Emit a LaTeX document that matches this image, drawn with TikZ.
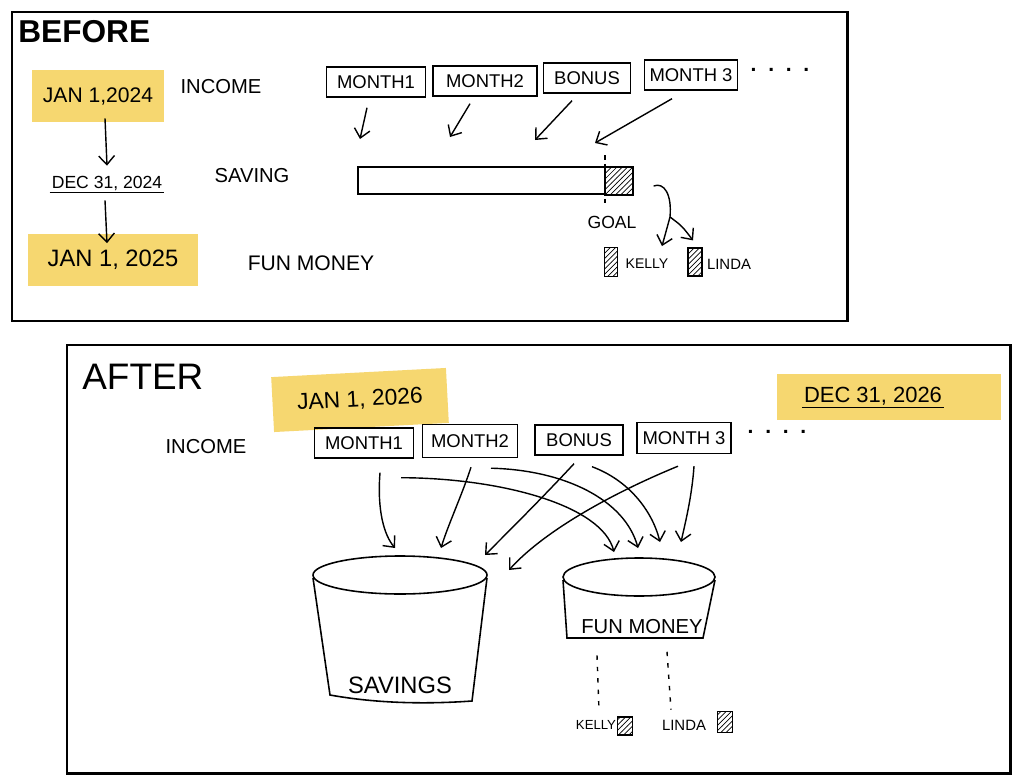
\documentclass[tikz,border=0pt]{standalone}
\usepackage{fontspec}
\setmainfont{Liberation Sans}
\usetikzlibrary{arrows.meta,patterns,calc}
\definecolor{hlyellow}{RGB}{246,215,112}
\begin{document}
\begin{tikzpicture}[x=0.02cm,y=-0.02cm,
  frame/.style={draw=black,line width=1.7pt},
  hl/.style={fill=hlyellow,draw=none,inner sep=0pt},
  lbl/.style={inner sep=1pt,font=\fontsize{11.5}{13}\selectfont},
  mbox/.style={draw,line width=0.8pt,inner sep=0pt,minimum height=0.6cm,font=\fontsize{10.5}{12}\selectfont},
  arr/.style={-{Straight Barb[length=5pt,width=9pt,line width=0.8pt]},line width=0.8pt},
  hatchbox/.style={draw,line width=0.7pt,pattern=north east lines,inner sep=0pt},
  dotl/.style={line width=0.8pt,dash pattern=on 2.5pt off 4pt},
  bucket/.style={line width=0.9pt}
]
\useasboundingbox[fill=white] (0,0) rectangle (1024,784);

%% ---------------- BEFORE ----------------
\draw[frame] (12,12) rectangle (847,321);
\node[anchor=west,inner sep=0pt,font=\fontsize{18}{20}\selectfont\bfseries] (before) at (18,32) {BEFORE};

\node[hl,minimum width=2.66cm,minimum height=1.04cm,font=\fontsize{12}{14}\selectfont] (j24) at (98,96) {JAN 1,2024};
\node[lbl] (inc1) at (221,87) {INCOME};
\node[lbl,font=\fontsize{10}{12}\selectfont] (dec24) at (107,183) {DEC 31, 2024};
\draw[line width=0.6pt] (dec24.south west) -- (dec24.south east);
\node[lbl] (sav1) at (252,176) {SAVING};
\node[hl,minimum width=3.4cm,minimum height=1.06cm,font=\fontsize{13.5}{15}\selectfont] (j25) at (113,260) {JAN 1, 2025};
\node[lbl,font=\fontsize{12}{14}\selectfont] (fun1) at (311,263) {FUN MONEY};

\draw[arr] ($(j24.south)+(7,-4)$) -- ($(dec24.north)+(0,-8)$);
\draw[arr] ($(dec24.south)+(-2,8)$) -- ($(j25.north)+(-6,10)$);

\node[mbox,minimum width=1.98cm] (tm1) at (376,82) {MONTH1};
\node[mbox,minimum width=2.08cm] (tm2) at (485,81) {MONTH2};
\node[mbox,minimum width=1.74cm] (tb) at (587,78) {BONUS};
\node[mbox,minimum width=1.86cm] (tm3) at (691,75) {MONTH 3};
\node[lbl,font=\fontsize{12}{14}\selectfont\bfseries] (td) at (780,70) {.\ \ .\ \ .\ \ .};

\node[draw,line width=0.8pt,minimum width=4.94cm,minimum height=0.54cm,inner sep=0pt] (bar) at (481.5,180.5) {};
\node[hatchbox,minimum width=0.56cm,minimum height=0.56cm] (gbox) at (619,181) {};
\draw[line width=0.8pt,dash pattern=on 3pt off 2pt] (605,155) -- (605,203);
\node[lbl,font=\fontsize{10}{12}\selectfont] (goal) at (612,222) {GOAL};

\coordinate (a1) at (360,139);
\coordinate (a2) at (450,137);
\coordinate (a3) at (535,140);
\coordinate (a4) at (595,143);
\draw[arr] ($(tm1.south)+(-9,10)$) -- (a1);
\draw[arr] ($(tm2.south)+(-15,7)$) -- (a2);
\draw[arr] ($(tb.south)+(-15,7)$) -- (a3);
\draw[arr] ($(tm3.south)+(-19,8)$) -- (a4);

\node[hatchbox,minimum width=0.26cm,minimum height=0.58cm] (kbox) at (611,262) {};
\node[lbl,font=\fontsize{8}{10}\selectfont] (kelly) at (647,264) {KELLY};
\node[hatchbox,minimum width=0.28cm,minimum height=0.56cm] (lbox) at (695,262) {};
\node[lbl,font=\fontsize{8.5}{10}\selectfont] (linda) at (729,264) {LINDA};

\coordinate (gs) at ($(gbox.east)+(20,5)$);
\coordinate (split) at (670,217);
\draw[line width=0.8pt] (gs) .. controls (664,182) and (672,194) .. (split);
\draw[arr] (split) .. controls (667,228) .. ($(kelly.north)+(15,-11)$);
\draw[arr] (split) .. controls (682,226) .. ($(lbox.north)+(-2,-7)$);

%% ---------------- AFTER ----------------
\draw[frame] (67,345) rectangle (1010,773);
\node[anchor=west,inner sep=0pt,font=\fontsize{21}{24}\selectfont] (after) at (82,377) {AFTER};

\node[hl,minimum width=3.5cm,minimum height=1.1cm,rotate=3,font=\fontsize{13}{15}\selectfont] (j26) at (360,400) {JAN 1, 2026};
\node[hl,minimum width=4.48cm,minimum height=0.94cm] (d26bg) at (889,397) {};
\node[lbl,font=\fontsize{12.5}{14}\selectfont] (d26) at (873,396) {DEC 31, 2026};
\draw[line width=0.6pt] (d26.south west) -- (d26.south east);

\node[lbl] (binc) at (206,447) {INCOME};
\node[mbox,minimum width=1.98cm] (bm1) at (364,443) {MONTH1};
\node[mbox,minimum width=1.9cm,minimum height=0.66cm] (bm2) at (470,441) {MONTH2};
\node[mbox,minimum width=1.76cm] (bb) at (579,440) {BONUS};
\node[mbox,minimum width=1.88cm,minimum height=0.62cm] (bm3) at (684,438) {MONTH 3};
\node[lbl,font=\fontsize{12}{14}\selectfont\bfseries] (bd) at (777,432) {.\ \ .\ \ .\ \ .};

% buckets
\draw[bucket] (400,575) ellipse [x radius=87,y radius=19];
\draw[bucket] (313,578) -- (330,695) .. controls (380,704) and (430,704) .. (472,701) -- (487,578);
\node[lbl,font=\fontsize{13.5}{15}\selectfont] (savings) at (400,685) {SAVINGS};

\draw[bucket] (639,577) ellipse [x radius=76,y radius=19];
\draw[bucket] (563,580) -- (567,638) -- (703,638) -- (715,580);
\node[lbl,font=\fontsize{11.5}{13}\selectfont] (funm) at (642,627) {FUN MONEY};

% arrow targets
\coordinate (s1) at (395,548);
\coordinate (s2) at (441,548);
\coordinate (s3) at (485,555);
\coordinate (s4) at (509,570);
\coordinate (f1) at (614,552);
\coordinate (f2) at (638,548);
\coordinate (f3) at (660,542);
\coordinate (f4) at (681,542);

\draw[arr] ($(bm1.south)+(16,14)$) .. controls (377,510) and (384,535) .. (s1);
\draw[arr] ($(bm1.south)+(37,19)$) .. controls (500,478) and (602,505) .. (f1);
\draw[arr] ($(bm2.south)+(1,9)$) .. controls (462,495) and (448,525) .. (s2);
\draw[arr] ($(bm2.south)+(21,10)$) .. controls (565,470) and (625,500) .. (f2);
\draw[arr] ($(bb.south)+(-5,8)$) .. controls (545,495) and (510,530) .. (s3);
\draw[arr] ($(bb.south)+(13,11)$) .. controls (628,480) and (652,510) .. (f3);
\draw[arr] ($(bm3.south)+(-6,12)$) .. controls (615,492) and (545,530) .. (s4);
\draw[arr] ($(bm3.south)+(10,12)$) .. controls (692,495) and (686,520) .. (f4);

% kelly / linda
\node[lbl,font=\fontsize{7.5}{9}\selectfont] (bkelly) at (596,725) {KELLY};
\node[hatchbox,minimum width=0.3cm,minimum height=0.36cm] (bkbox) at (625,726) {};
\node[lbl,font=\fontsize{8.5}{10}\selectfont] (blinda) at (684,725) {LINDA};
\node[hatchbox,minimum width=0.3cm,minimum height=0.42cm] (blbox) at (725,722) {};

\draw[dotl] ($(bkelly.north)+(1,-63)$) -- ($(bkelly.north)+(3,-8)$);
\draw[dotl] ($(blinda.north)+(-17,-66)$) -- ($(blinda.north)+(-13,-8)$);
\end{tikzpicture}
\end{document}
